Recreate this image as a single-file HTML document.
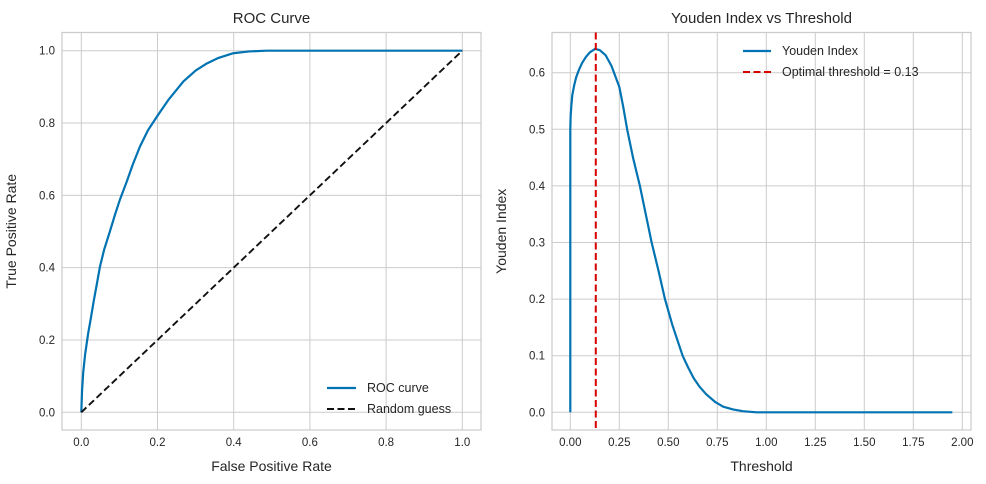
<!DOCTYPE html>
<html><head><meta charset="utf-8">
<style>
html,body{margin:0;padding:0;background:#fff;}
svg{display:block;font-family:"Liberation Sans","DejaVu Sans",sans-serif;}
</style></head>
<body>
<svg id="chart" width="986" height="484" viewBox="0 0 986 484" xmlns="http://www.w3.org/2000/svg"></svg>
<script>
// ROC data
const rocFpr = [0, 0.002, 0.005, 0.01, 0.018, 0.025, 0.033, 0.04, 0.049, 0.06, 0.075, 0.088, 0.101, 0.12, 0.135, 0.154, 0.175, 0.2, 0.23, 0.268, 0.3, 0.33, 0.36, 0.399, 0.44, 0.486, 1.0];
const rocTpr = [0, 0.06, 0.11, 0.16, 0.218, 0.26, 0.31, 0.35, 0.403, 0.45, 0.5, 0.545, 0.587, 0.64, 0.685, 0.735, 0.78, 0.82, 0.866, 0.915, 0.945, 0.965, 0.98, 0.993, 0.998, 1.0, 1.0];
const randX = [0, 1];
const randY = [0, 1];
const rocXTicks = [0, 0.2, 0.4, 0.6, 0.8, 1.0];
const rocYTicks = [0, 0.2, 0.4, 0.6, 0.8, 1.0];
const rocXTickLabels = ["0.0","0.2","0.4","0.6","0.8","1.0"];
const rocYTickLabels = ["0.0","0.2","0.4","0.6","0.8","1.0"];
// Youden data
const youThr = [0, 0, 0.002, 0.005, 0.01, 0.02, 0.03, 0.044, 0.06, 0.08, 0.1, 0.126, 0.15, 0.18, 0.21, 0.25, 0.27, 0.29, 0.32, 0.355, 0.385, 0.415, 0.45, 0.483, 0.52, 0.573, 0.6, 0.63, 0.66, 0.693, 0.74, 0.78, 0.83, 0.88, 0.95, 1.949];
const youVal = [0, 0.5, 0.525, 0.54, 0.56, 0.578, 0.592, 0.605, 0.617, 0.628, 0.636, 0.642, 0.64, 0.631, 0.612, 0.575, 0.54, 0.5, 0.45, 0.4, 0.35, 0.3, 0.25, 0.2, 0.155, 0.1, 0.08, 0.06, 0.045, 0.032, 0.018, 0.01, 0.005, 0.002, 0.0, 0.0];
const optimalThreshold = [0.13];
const youXTicks = [0, 0.25, 0.5, 0.75, 1.0, 1.25, 1.5, 1.75, 2.0];
const youXTickLabels = ["0.00","0.25","0.50","0.75","1.00","1.25","1.50","1.75","2.00"];
const youYTicks = [0, 0.1, 0.2, 0.3, 0.4, 0.5, 0.6];
const youYTickLabels = ["0.0","0.1","0.2","0.3","0.4","0.5","0.6"];

const svg = document.getElementById('chart');
const NS = 'http://www.w3.org/2000/svg';
function mk(tag, attrs, parent){const e=document.createElementNS(NS,tag);for(const k in attrs)e.setAttribute(k,attrs[k]);(parent||svg).appendChild(e);return e;}
function txt(s, attrs, parent){const e=mk('text',attrs,parent);e.textContent=s;return e;}

function panel(cfg){
  const g = mk('g',{});
  
  
  const sx = v => cfg.x0 + (v - cfg.xd[0])/(cfg.xd[1]-cfg.xd[0])*(cfg.x1-cfg.x0);
  const sy = v => cfg.y0 - (v - cfg.yd[0])/(cfg.yd[1]-cfg.yd[0])*(cfg.y0-cfg.y1);
  cfg.xt.forEach((t,i)=>{
    const l=mk('line',{x1:sx(t),x2:sx(t),y1:cfg.fT,y2:cfg.fB,stroke:'#cccccc','stroke-width':1},g);
    
    
    const tl=txt(cfg.xtl[i],{x:sx(t),y:cfg.fB+16,'font-size':11.5,fill:'#262626','text-anchor':'middle'},g);
    
    
  });
  cfg.yt.forEach((t,i)=>{
    const l=mk('line',{x1:cfg.fL,x2:cfg.fR,y1:sy(t),y2:sy(t),stroke:'#cccccc','stroke-width':1},g);
    
    
    const tl=txt(cfg.ytl[i],{x:cfg.fL-7,y:sy(t)+4,'font-size':11.5,fill:'#262626','text-anchor':'end'},g);
    
    
  });
  const fr=mk('rect',{x:cfg.fL,y:cfg.fT,width:cfg.fR-cfg.fL,height:cfg.fB-cfg.fT,fill:'none',stroke:'#cccccc','stroke-width':1.25},g);
  
  
  const t=txt(cfg.title,{x:(cfg.fL+cfg.fR)/2,y:23,'font-size':15,fill:'#262626','text-anchor':'middle'},g);
  
  
  const xl=txt(cfg.xlabel,{x:(cfg.fL+cfg.fR)/2,y:471,'font-size':14,fill:'#262626','text-anchor':'middle'},g);
  
  
  const yx=cfg.fL-46, yy=(cfg.fT+cfg.fB)/2;
  const yl=txt(cfg.ylabel,{x:yx,y:yy,'font-size':14,fill:'#262626','text-anchor':'middle',transform:`rotate(-90 ${yx} ${yy})`},g);
  
  
  return {g,sx,sy};
}
function pathOf(xs,ys,sx,sy){return xs.map((x,i)=>(i?'L':'M')+sx(x).toFixed(2)+' '+sy(ys[i]).toFixed(2)).join(' ');}

// Left panel
const L = panel({name:'roc-panel',title:'ROC Curve',xlabel:'False Positive Rate',ylabel:'True Positive Rate',
  x0:81.3,x1:462.3,xd:[0,1],y0:412.3,y1:50.7,yd:[0,1],fL:62,fR:481,fT:32.5,fB:430,
  xt:rocXTicks,xtl:rocXTickLabels,yt:rocYTicks,ytl:rocYTickLabels});
const rp=mk('path',{d:pathOf(rocFpr,rocTpr,L.sx,L.sy),fill:'none',stroke:'#0173b2','stroke-width':2.2,'stroke-linejoin':'round'},L.g);


const dp=mk('path',{d:pathOf(randX,randY,L.sx,L.sy),fill:'none',stroke:'#111','stroke-width':1.9,'stroke-dasharray':'7,3.5'},L.g);


const lg1=mk('g',{},L.g);


mk('line',{x1:327,x2:356,y1:388,y2:388,stroke:'#0173b2','stroke-width':2.2},lg1);
txt('ROC curve',{x:367,y:392,'font-size':12.5,fill:'#262626'},lg1);
mk('line',{x1:327,x2:356,y1:409,y2:409,stroke:'#111','stroke-width':1.9,'stroke-dasharray':'7,3.5'},lg1);
txt('Random guess',{x:367,y:413,'font-size':12.5,fill:'#262626'},lg1);

// Right panel
const R = panel({name:'youden-panel',title:'Youden Index vs Threshold',xlabel:'Threshold',ylabel:'Youden Index',
  x0:570.3,x1:962.3,xd:[0,2],y0:412.3,y1:72.7,yd:[0,0.6],fL:552,fR:971,fT:32.5,fB:430,
  xt:youXTicks,xtl:youXTickLabels,yt:youYTicks,ytl:youYTickLabels});
const yp=mk('path',{d:pathOf(youThr,youVal,R.sx,R.sy),fill:'none',stroke:'#0173b2','stroke-width':2.2,'stroke-linejoin':'round'},R.g);


const ol=mk('line',{x1:R.sx(optimalThreshold[0]),x2:R.sx(optimalThreshold[0]),y1:32.5,y2:430,stroke:'#d60000','stroke-width':2,'stroke-dasharray':'7,3.5'},R.g);


const lg2=mk('g',{},R.g);


mk('line',{x1:743,x2:771,y1:51,y2:51,stroke:'#0173b2','stroke-width':2.2},lg2);
txt('Youden Index',{x:782,y:55,'font-size':12.5,fill:'#262626'},lg2);
mk('line',{x1:743,x2:771,y1:72,y2:72,stroke:'#d60000','stroke-width':2,'stroke-dasharray':'7,3.5'},lg2);
txt('Optimal threshold = '+optimalThreshold[0].toFixed(2),{x:782,y:76,'font-size':12.5,fill:'#262626'},lg2);
</script>
</body></html>
